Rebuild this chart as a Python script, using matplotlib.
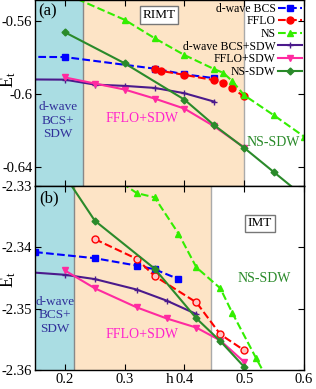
import numpy as np
import matplotlib
matplotlib.use('Agg')
import matplotlib.pyplot as plt

plt.rcParams['font.family'] = ['Liberation Serif', 'DejaVu Serif']
plt.rcParams['mathtext.fontset'] = 'custom'
plt.rcParams['mathtext.rm'] = 'Liberation Serif'
plt.rcParams['mathtext.it'] = 'Liberation Serif:italic'
plt.rcParams['axes.unicode_minus'] = False

# ---- panel (a): RIMT ----
a_bcs_h = [0.10, 0.20, 0.35, 0.40, 0.45]
a_bcs_E = [-0.5797, -0.5799, -0.5862, -0.5893, -0.5914]
a_fflo_h = [0.35, 0.36, 0.40, 0.45, 0.465, 0.48, 0.50]
a_fflo_E = [-0.5865, -0.5874, -0.5896, -0.5925, -0.5938, -0.5970, -0.6013]
a_ns_h = [0.20, 0.30, 0.35, 0.40, 0.45, 0.465, 0.48, 0.50, 0.55, 0.60]
a_ns_E = [-0.5453, -0.5596, -0.5696, -0.5788, -0.5865, -0.5885, -0.5930, -0.6007, -0.6117, -0.6232]
a_bcssdw_h = [0.10, 0.20, 0.25, 0.30, 0.35, 0.40, 0.45]
a_bcssdw_E = [-0.5920, -0.5922, -0.5949, -0.5956, -0.5967, -0.5996, -0.6042]
a_fflosdw_h = [0.20, 0.25, 0.30, 0.35, 0.40, 0.45, 0.50]
a_fflosdw_E = [-0.5910, -0.5943, -0.5976, -0.6025, -0.6080, -0.6177, -0.6292]
a_nssdw_h = [0.20, 0.30, 0.40, 0.45, 0.50, 0.55, 0.60]
a_nssdw_E = [-0.5664, -0.5833, -0.6031, -0.6171, -0.6294, -0.6427, -0.6560]

# ---- panel (b): IMT ----
b_bcs_h = [0.15, 0.25, 0.32, 0.35, 0.39]
b_bcs_E = [-2.3408, -2.3418, -2.3430, -2.3436, -2.3452]
b_fflo_h = [0.25, 0.32, 0.35, 0.42, 0.46, 0.50]
b_fflo_E = [-2.3387, -2.3419, -2.3447, -2.3490, -2.3542, -2.3568]
b_ns_h = [0.25, 0.32, 0.35, 0.39, 0.42, 0.46, 0.48, 0.52, 0.55]
b_ns_E = [-2.3265, -2.3312, -2.3319, -2.3378, -2.3433, -2.3467, -2.3507, -2.3581, -2.3635]
b_bcssdw_h = [0.10, 0.20, 0.25, 0.32, 0.37, 0.42]
b_bcssdw_E = [-2.3438, -2.3445, -2.3452, -2.3469, -2.3487, -2.3509]
b_fflosdw_h = [0.20, 0.25, 0.32, 0.37, 0.42, 0.46, 0.50]
b_fflosdw_E = [-2.3438, -2.3467, -2.3498, -2.3516, -2.3531, -2.3552, -2.3587]
b_nssdw_h = [0.20, 0.25, 0.35, 0.42, 0.46, 0.50]
b_nssdw_E = [-2.3284, -2.3357, -2.3435, -2.3516, -2.3553, -2.3595]

labels = ['d-wave BCS', 'FFLO', 'NS', 'd-wave BCS+SDW', 'FFLO+SDW', 'NS-SDW']
colors = ['#0000ff', '#ff0000', '#33ee00', '#4b1a8c', '#ff2aa0', '#2a8a2a']
cyan = '#aadde3'
peach = '#fde4c6'
txt_blue = '#30309a'

fig = plt.figure(figsize=(3.16, 3.89), dpi=100)
ax1 = fig.add_axes([0.111, 0.5226, 0.851, 0.4764])
ax2 = fig.add_axes([0.111, 0.0488, 0.851, 0.4738], sharex=ax1)


def draw(ax, d, fflo_face):
    styles = [
        dict(ls='--', marker='s', ms=4),
        dict(ls='--', marker='o', ms=5, mfc=fflo_face),
        dict(ls='--', marker='^', ms=5),
        dict(ls='-', marker='+', ms=4, mew=1),
        dict(ls='-', marker='v', ms=5),
        dict(ls='-', marker='D', ms=3.5),
    ]
    for (h, E), lab, c, st in zip(d, labels, colors, styles):
        ax.plot(h, E, color=c, lw=1.5, label=lab, **st)


draw(ax1, [(a_bcs_h, a_bcs_E), (a_fflo_h, a_fflo_E), (a_ns_h, a_ns_E),
           (a_bcssdw_h, a_bcssdw_E), (a_fflosdw_h, a_fflosdw_E),
           (a_nssdw_h, a_nssdw_E)], '#ff0000')
draw(ax2, [(b_bcs_h, b_bcs_E), (b_fflo_h, b_fflo_E), (b_ns_h, b_ns_E),
           (b_bcssdw_h, b_bcssdw_E), (b_fflosdw_h, b_fflosdw_E),
           (b_nssdw_h, b_nssdw_E)], '#ffc4c4')

# phase regions
for ax, b1, b2 in [(ax1, 0.23, 0.50), (ax2, 0.215, 0.445)]:
    ax.axvspan(0.15, b1, color=cyan, zorder=0, lw=0)
    ax.axvspan(b1, b2, color=peach, zorder=0, lw=0)
    ax.axvline(b1, color='#888888', lw=1, zorder=0.5)
    ax.axvline(b2, color='#aaaaaa', lw=1, zorder=0.5)

ax1.set_xlim(0.15, 0.6)
ax1.set_ylim(-0.65, -0.549)
ax2.set_ylim(-2.36, -2.33)
ax1.set_yticks([-0.64, -0.6, -0.56])
ax1.set_yticklabels(['-0.64', '-0.6', '-0.56'])
ax2.set_yticks([-2.36, -2.35, -2.34, -2.33])
ax2.set_xticks([0.2, 0.3, 0.4, 0.5, 0.6])
ax2.set_xticklabels(['0.2', '0.3', '0.4', '0.5', '0.6'])
plt.setp(ax1.get_xticklabels(), visible=False)

for ax in (ax1, ax2):
    ax.tick_params(direction='in', top=True, right=True, labelsize=10.5,
                   length=4, width=0.8, pad=2)
    for s in ax.spines.values():
        s.set_linewidth(1.0)
    ax.set_ylabel(r'$\mathrm{E_t}$', fontsize=13)
ax1.yaxis.set_label_coords(-0.062, 0.571)
ax2.yaxis.set_label_coords(-0.062, 0.488)

ax2.set_xlabel('h', fontsize=11, labelpad=-9)

# text annotations
ax1.text(0.012, 0.985, '(a)', transform=ax1.transAxes, fontsize=12, va='top')
ax2.text(0.016, 0.975, '(b)', transform=ax2.transAxes, fontsize=12, va='top')
box = dict(boxstyle='square,pad=0.2', fc='white', ec='#777777', lw=1)
ax1.text(0.357, -0.5569, 'RIMT', fontsize=9.5, ha='center', va='center', bbox=box)
ax2.text(0.526, -2.3361, 'IMT', fontsize=9.5, ha='center', va='center', bbox=box)
ax1.text(0.188, -0.6145, 'd-wave\nBCS+\nSDW', color=txt_blue, fontsize=9.5,
         ha='center', va='center', linespacing=1.15)
ax2.text(0.183, -2.3511, 'd-wave\nBCS+\nSDW', color=txt_blue, fontsize=9.5,
         ha='center', va='center', linespacing=1.15)
ax1.text(0.329, -0.6133, 'FFLO+SDW', color='#ff22cc', fontsize=10, ha='center', va='center')
ax2.text(0.329, -2.3542, 'FFLO+SDW', color='#ff22cc', fontsize=10, ha='center', va='center')
ax1.text(0.548, -0.6263, 'NS-SDW', color='#2a8a2a', fontsize=10, ha='center', va='center')
ax2.text(0.533, -2.3451, 'NS-SDW', color='#2a8a2a', fontsize=10, ha='center', va='center')

ax1.legend(loc='upper right', frameon=False, markerfirst=False, fontsize=8.5,
           handlelength=2.0, handletextpad=0.2, labelspacing=0.05,
           borderaxespad=0.1, borderpad=0.1)

fig.savefig('out.png', dpi=100)
